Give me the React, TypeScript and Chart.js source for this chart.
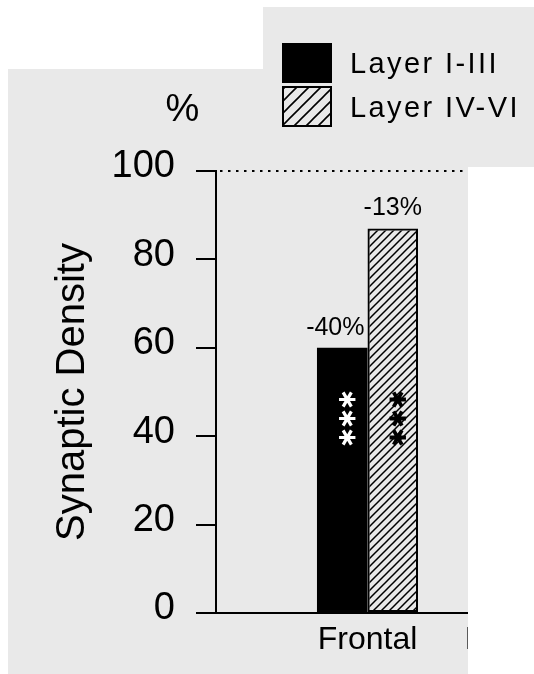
import React, { useEffect, useRef } from "react";
import { Chart, registerables } from "chart.js";

Chart.register(...registerables);

// ---- data ----
const categories = ["", "Frontal", "Parietal"];
const seriesNames = ["Layer I-III", "Layer IV-VI"];
const layerIToIII = [null, 60, 93];
const layerIVToVI = [null, 87, null];
const changeIToIII = ["", "-40%", "-7%"];
const changeIVToVI = ["", "-13%", ""];
const starsIToIII = ["", "***", ""];
const starsIVToVI = ["", "***", ""];
const yTicks = [0, 20, 40, 60, 80, 100];
const yTitle = "Synaptic Density";
const yUnit = "%";
const referenceValue = 100;
const starsCenterValue = 44;

const FONT = "'Liberation Sans', Arial, Helvetica, sans-serif";
const PANEL = "#e9e9e9";

function makeHatch(s: number, lw: number): CanvasPattern {
  const c = document.createElement("canvas");
  c.width = s;
  c.height = s;
  const g = c.getContext("2d")!;
  g.strokeStyle = "#000";
  g.lineWidth = lw;
  g.beginPath();
  for (const k of [0, s, 2 * s]) {
    g.moveTo(-s, k + s);
    g.lineTo(2 * s, k - 2 * s);
  }
  g.stroke();
  return g.createPattern(c, "repeat")!;
}

function drawStar(ctx: CanvasRenderingContext2D, x: number, y: number, r: number) {
  ctx.beginPath();
  for (let a = 0; a < 3; a++) {
    const ang = (a * Math.PI) / 3;
    ctx.moveTo(x - r * Math.cos(ang), y - r * Math.sin(ang));
    ctx.lineTo(x + r * Math.cos(ang), y + r * Math.sin(ang));
  }
  ctx.stroke();
}

export default function App() {
  const ref = useRef<HTMLCanvasElement>(null);

  useEffect(() => {
    const canvas = ref.current!;
    const barHatch = makeHatch(8, 1.5);
    const legendHatch = makeHatch(12, 1.6);

    const decor = {
      id: "decor",
      beforeDraw(chart: any) {
        const { ctx, width, height } = chart;
        ctx.save();
        ctx.fillStyle = "#fff";
        ctx.fillRect(0, 0, width, height);
        ctx.fillStyle = PANEL;
        ctx.fillRect(8, 69, 460, height - 69);
        ctx.fillRect(263, 7, width - 263, 160);
        ctx.restore();
      },
      afterDatasetsDraw(chart: any) {
        const { ctx, chartArea, scales } = chart;
        const ys = scales.y;
        const ry = ys.getPixelForValue(referenceValue);
        ctx.save();
        ctx.strokeStyle = "#000";
        ctx.lineWidth = 2;
        ctx.setLineDash([2.5, 5.5]);
        ctx.beginPath();
        ctx.moveTo(chartArea.left + 4, ry);
        ctx.lineTo(chartArea.right, ry);
        ctx.stroke();
        ctx.restore();

        const changes = [changeIToIII, changeIVToVI];
        const stars = [starsIToIII, starsIVToVI];
        ctx.save();
        ctx.font = `25px ${FONT}`;
        ctx.fillStyle = "#000";
        ctx.textAlign = "center";
        ctx.textBaseline = "alphabetic";
        chart.data.datasets.forEach((ds: any, di: number) => {
          const meta = chart.getDatasetMeta(di);
          meta.data.forEach((bar: any, i: number) => {
            const v = ds.data[i];
            if (v == null) return;
            const text = changes[di][i];
            if (text) {
              const w = ctx.measureText(text).width;
              let x = bar.x;
              const nextDs = chart.data.datasets[di + 1];
              if (nextDs && nextDs.data[i] != null && nextDs.data[i] > v) {
                const nb = chart.getDatasetMeta(di + 1).data[i];
                x = Math.min(x, nb.x - nb.width / 2 - 3 - w / 2);
              }
              ctx.fillText(text, x, bar.y - 13);
            }
            const s = stars[di][i];
            if (s) {
              const n = s.length;
              const cy = ys.getPixelForValue(starsCenterValue);
              ctx.save();
              ctx.strokeStyle = di === 0 ? "#fff" : "#000";
              ctx.lineWidth = di === 0 ? 3.2 : 3.8;
              for (let k = 0; k < n; k++) {
                drawStar(ctx, bar.x + 5, cy + (k - (n - 1) / 2) * 19, 8.2);
              }
              ctx.restore();
            }
          });
        });
        ctx.restore();
      },
      afterDraw(chart: any) {
        const { ctx, width, height, chartArea } = chart;
        ctx.save();
        // cropped-off right part
        ctx.fillStyle = "#fff";
        ctx.fillRect(468, 167, width - 468, height - 167);
        // unit label
        ctx.fillStyle = "#000";
        ctx.font = `38px ${FONT}`;
        ctx.textAlign = "center";
        ctx.textBaseline = "alphabetic";
        ctx.fillText(yUnit, chartArea.left - 33.5, chartArea.top - 50);
        // legend
        chart.data.datasets.forEach((ds: any, i: number) => {
          const bx = 282;
          const by = 43 + i * 43;
          if (i === 0) {
            ctx.fillStyle = "#000";
            ctx.fillRect(bx, by, 50, 40);
          } else {
            ctx.fillStyle = legendHatch;
            ctx.fillRect(bx, by, 50, 41);
            ctx.strokeStyle = "#000";
            ctx.lineWidth = 2;
            ctx.strokeRect(bx + 1, by + 1, 48, 39);
          }
          ctx.fillStyle = "#000";
          ctx.font = `29px ${FONT}`;
          ctx.textAlign = "left";
          (ctx as any).letterSpacing = "2.4px";
          ctx.fillText(ds.label, 350, 73 + i * 44);
          (ctx as any).letterSpacing = "0px";
        });
        ctx.restore();
      },
    };

    const chart = new Chart(canvas, {
      type: "bar",
      data: {
        labels: categories,
        datasets: [
          {
            label: seriesNames[0],
            data: layerIToIII as any,
            backgroundColor: "#000",
            borderColor: "#000",
            borderWidth: 0,
            borderSkipped: false,
          },
          {
            label: seriesNames[1],
            data: layerIVToVI as any,
            backgroundColor: barHatch as any,
            borderColor: "#000",
            borderWidth: 2,
            borderSkipped: false,
          },
        ],
      },
      options: {
        responsive: false,
        animation: false,
        events: [],
        layout: { padding: { left: 0, top: 171, right: 15, bottom: 0 } },
        datasets: { bar: { barPercentage: 1, categoryPercentage: 0.667 } },
        plugins: {
          legend: { display: false },
          tooltip: { enabled: false },
        },
        scales: {
          x: {
            type: "category",
            offset: false,
            grid: { display: false, drawTicks: false },
            border: { display: true, color: "#000", width: 2 },
            ticks: {
              color: "#000",
              font: { family: FONT, size: 32 },
              padding: 8,
              autoSkip: false,
              maxRotation: 0,
              minRotation: 0,
            },
            afterFit: (s: any) => {
              s.paddingLeft = 0;
              s.paddingRight = 0;
              s.height = 61;
            },
          },
          y: {
            min: 0,
            max: 100,
            afterBuildTicks: (s: any) => {
              s.ticks = yTicks.map((v) => ({ value: v }));
            },
            grid: {
              drawOnChartArea: false,
              drawTicks: true,
              tickLength: 20,
              color: "#000",
              lineWidth: 2,
            },
            border: { display: true, color: "#000", width: 2 },
            ticks: {
              color: "#000",
              font: { family: FONT, size: 38 },
              padding: 21,
              labelOffset: -4,
            },
            title: {
              display: true,
              text: yTitle,
              color: "#000",
              font: { family: FONT, size: 40 },
              padding: { top: 49, bottom: 0 },
            },
            afterFit: (s: any) => {
              s.width = 216;
            },
          },
        },
      } as any,
      plugins: [decor],
    });

    return () => chart.destroy();
  }, []);

  return (
    <div style={{ position: "absolute", left: 0, top: 0, width: 534, height: 674, background: "#fff" }}>
      <canvas ref={ref} width={534} height={674} style={{ display: "block", width: 534, height: 674 }} />
    </div>
  );
}
